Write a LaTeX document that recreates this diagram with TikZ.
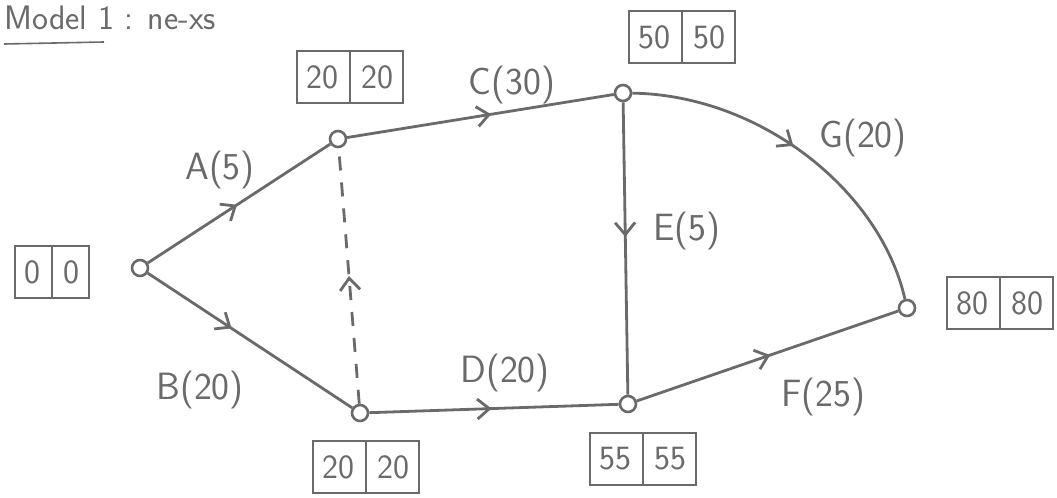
\documentclass[tikz,border=0pt]{standalone}
\usetikzlibrary{arrows.meta,decorations.markings,shapes.multipart}
\definecolor{pencil}{HTML}{6A6A6A}
\begin{document}
\begin{tikzpicture}[x=0.5pt,y=-0.5pt,
  ev/.style={circle,draw=pencil,fill=white,line width=1.3pt,minimum size=8pt,inner sep=0pt},
  act/.style={draw=pencil,line width=1.4pt,postaction={decorate,solid},
    decoration={markings,mark=at position #1 with {\arrow{Straight Barb[length=6pt,width=10pt]}}}},
  act/.default=0.5,
  lbl/.style={text=pencil,font=\sffamily\fontsize{19}{21}\selectfont},
  vbox/.style={rectangle split,rectangle split horizontal,rectangle split parts=2,
    draw=pencil,line width=1.2pt,text=pencil,font=\sffamily\fontsize{17}{19}\selectfont,
    minimum height=26pt,inner xsep=5pt}]
\useasboundingbox (0,0) rectangle (1057,498);

% header
\node[lbl,anchor=base west,inner sep=0pt,font=\sffamily\fontsize{17}{19}\selectfont] (hdr) at (4,30) {Model 1 : ne-xs};
\draw[pencil,line width=0.8pt] (4,44) -- (104,42);

% events
\node[ev] (s)  at (140,268) {};
\node[ev] (n2) at (338,139) {};
\node[ev] (n3) at (623,93) {};
\node[ev] (n4) at (360,413) {};
\node[ev] (n5) at (628,404) {};
\node[ev] (n6) at (907,308) {};

% activities
\draw[act=0.49] (s) -- (n2);
\draw[act=0.41] (s) -- (n4);
\draw[act=0.54] (n2) -- (n3);
\draw[act=0.49] (n4) -- (n5);
\draw[act=0.46] (n3) -- (n5);
\draw[act=0.51] (n5) -- (n6);
\draw[act=0.47] (n3) .. controls (760,95) and (880,190) .. (n6);
\draw[act=0.5,dash pattern=on 7pt off 6pt] (n4) -- (n2);

% activity labels
\node[lbl] (la) at (220,170) {A(5)};
\node[lbl] (lb) at (200,390) {B(20)};
\node[lbl] (lc) at (512,85) {C(30)};
\node[lbl] (ld) at (505,373) {D(20)};
\node[lbl] (le) at (687,231) {E(5)};
\node[lbl] (lg) at (863,138) {G(20)};
\node[lbl] (lf) at (823,397) {F(25)};

% event times
\node[vbox] (b1) at (52,272) {0\nodepart{two}0};
\node[vbox] (b2) at (350,77) {20\nodepart{two}20};
\node[vbox] (b3) at (682,37) {50\nodepart{two}50};
\node[vbox] (b4) at (366,467) {20\nodepart{two}20};
\node[vbox] (b5) at (643,459) {55\nodepart{two}55};
\node[vbox] (b6) at (1000,303) {80\nodepart{two}80};
\end{tikzpicture}
\end{document}
